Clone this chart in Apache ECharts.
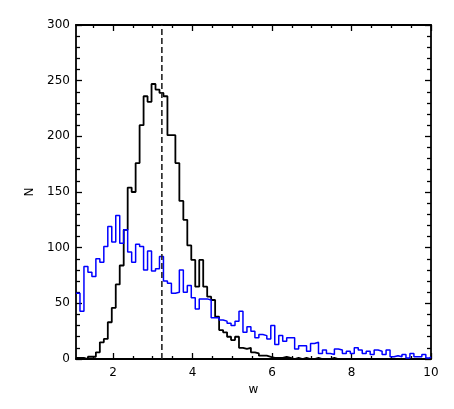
<!DOCTYPE html>
<html>
<head>
<meta charset="utf-8">
<script src="https://cdn.jsdelivr.net/npm/echarts@6/dist/echarts.min.js"></script>
<style>
  html, body { margin: 0; padding: 0; background: #fff; }
  #chart { width: 454px; height: 409px; }
</style>
</head>
<body>
<div id="chart"></div>
<script>
// histogram bins: left edge of first bin and bin width (in w)
var binStart = 1.07;
var binWidth = 0.1;
var xMax = 10;
var cutLine = 3.23; // dashed vertical line

// counts per bin, black histogram
var blackCounts = [
  1, 1, 0, 2, 2, 6, 15, 18, 33, 46,
  67, 84, 116, 154, 150, 176, 210, 236, 231, 247,
  242, 239, 236, 201, 201, 176, 142, 125, 102, 89,
  65, 89, 65, 56, 53, 38, 26, 24, 20, 17,
  20, 10, 9, 10, 6, 5, 3, 3, 2, 1,
  1, 1, 2, 1, 0, 1, 0, 1, 0, 0,
  1, 0, 0, 0, 1, 0, 0, 0, 0, 0,
  0, 0, 0, 0, 0, 0, 0, 0, 0, 0,
  0, 0, 0, 0, 0, 0, 0, 0, 0, 0
];

// counts per bin, blue histogram
var blueCounts = [
  59, 43, 83, 78, 74, 90, 87, 101, 119, 105,
  129, 104, 116, 96, 87, 103, 101, 80, 97, 79,
  81, 92, 70, 68, 59, 60, 80, 60, 66, 55,
  45, 54, 54, 53, 37, 37, 35, 34, 32, 30,
  34, 43, 24, 29, 25, 19, 22, 21, 18, 30,
  13, 21, 16, 19, 19, 9, 12, 12, 7, 14,
  15, 5, 8, 5, 4, 9, 8, 5, 7, 5,
  10, 8, 5, 7, 4, 8, 7, 4, 8, 2,
  3, 2, 4, 1, 5, 2, 2, 4, 1, 2
];

var xLabels = [2, 4, 6, 8, 10];
var xMinorTicks = [1.5, 2.5, 3, 3.5, 4.5, 5, 5.5, 6.5, 7, 7.5, 8.5, 9, 9.5];

function stepData(counts) {
  var pts = [];
  for (var i = 0; i < counts.length; i++) {
    var x = +(binStart + i * binWidth).toFixed(3);
    if (x >= xMax) break;
    pts.push([x, counts[i]]);
  }
  pts.push([xMax, pts[pts.length - 1][1]]);
  return pts;
}

var font = "DejaVu Sans";
var chart = echarts.init(document.getElementById("chart"));

function xAxisCfg(pos, ticks, len, showLabel, showLine) {
  return {
    type: "value",
    position: pos,
    min: binStart,
    max: xMax,
    name: showLabel ? "w" : "",
    nameLocation: "middle",
    nameGap: 22,
    nameTextStyle: { color: "#000", fontFamily: font, fontSize: 12 },
    axisLine: { show: showLine, onZero: false, lineStyle: { color: "#000", width: 1.8 } },
    axisTick: { show: true, inside: true, length: len, customValues: ticks, lineStyle: { color: "#000", width: 1.3 } },
    axisLabel: { show: showLabel, customValues: xLabels, margin: 8, color: "#000", fontFamily: font, fontSize: 12 },
    splitLine: { show: false }
  };
}

function yAxisCfg(pos, showLabel) {
  return {
    type: "value",
    position: pos,
    min: 0,
    max: 300,
    interval: 50,
    name: showLabel ? "N" : "",
    nameLocation: "middle",
    nameGap: 39,
    nameTextStyle: { color: "#000", fontFamily: font, fontSize: 12 },
    axisLine: { show: true, lineStyle: { color: "#000", width: 1.8 } },
    axisTick: { show: true, inside: true, length: 6, lineStyle: { color: "#000", width: 1.3 } },
    minorTick: { show: true, splitNumber: 5, length: 4, lineStyle: { color: "#000", width: 1.3 } },
    axisLabel: { show: showLabel, margin: 6, color: "#000", fontFamily: font, fontSize: 12 },
    splitLine: { show: false }
  };
}

var option = {
  animation: false,
  backgroundColor: "#fff",
  grid: { left: 76, right: 23, top: 25, bottom: 50 },
  xAxis: [
    xAxisCfg("bottom", xLabels, 6, true, true),
    xAxisCfg("bottom", xMinorTicks, 3, false, false),
    xAxisCfg("top", xLabels, 6, false, true),
    xAxisCfg("top", xMinorTicks, 3, false, false)
  ],
  yAxis: [
    yAxisCfg("left", true),
    yAxisCfg("right", false)
  ],
  series: [
    {
      name: "black",
      type: "line",
      step: "end",
      symbol: "none",
      data: stepData(blackCounts),
      lineStyle: { color: "#000", width: 1.8 },
      z: 3
    },
    {
      name: "blue",
      type: "line",
      step: "end",
      symbol: "none",
      data: stepData(blueCounts),
      lineStyle: { color: "#0000ff", width: 1.5 },
      z: 4
    },
    {
      name: "cut",
      type: "line",
      symbol: "none",
      data: [[cutLine, 0], [cutLine, 300]],
      lineStyle: { color: "#222", width: 1.6, type: [6, 3] },
      z: 5
    }
  ]
};
chart.setOption(option);
</script>
</body>
</html>
